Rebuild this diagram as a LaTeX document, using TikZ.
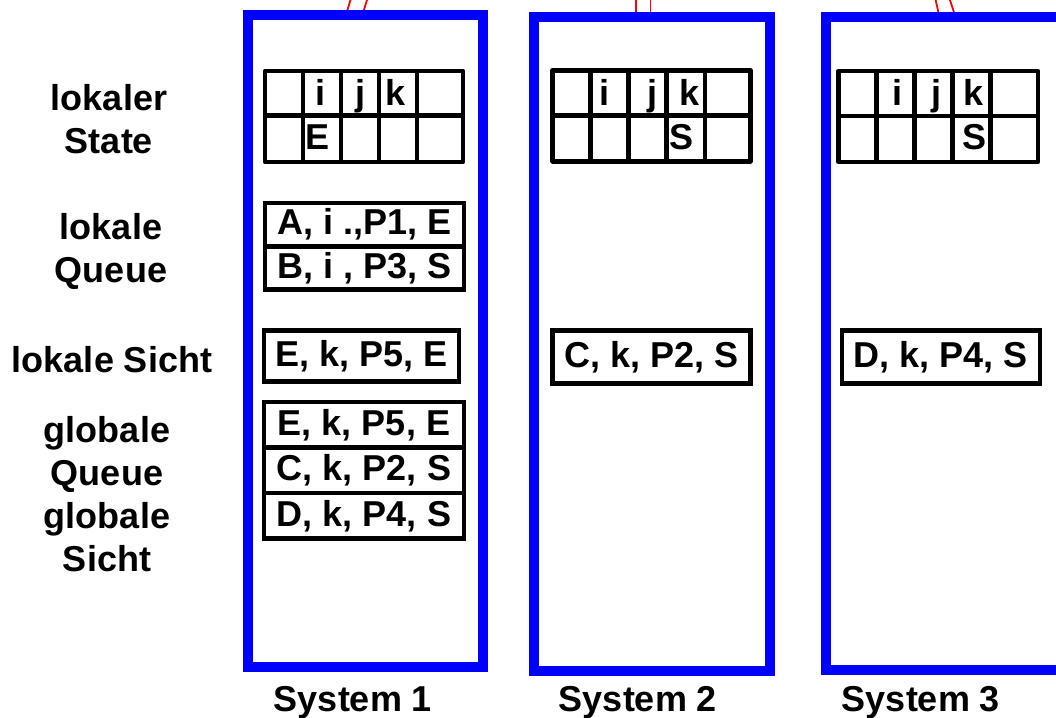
\documentclass[tikz,border=0pt]{standalone}
\usepackage{fontspec}
\setmainfont{Liberation Sans}
\usepackage{tikz}

\begin{document}
\begin{tikzpicture}[x=1pt, y=-1pt,
	big font/.style={font=\fontsize{36}{43}\selectfont\bfseries},
	sys node/.style={draw=blue, line width=10pt, inner sep=0pt},
	entry node/.style={draw, line width=4.5pt, inner sep=0pt, minimum width=199pt, minimum height=44pt, big font},
	label node/.style={align=center, inner sep=0pt, big font},
	cell text/.style={anchor=base, inner sep=0pt, big font},
	grid line/.style={line width=4.5pt, line join=round},
	link/.style={red, line width=1.8pt}]

	\clip (0,0) rectangle (1056,717);

	% links leaving the systems
	\coordinate (l1a) at (352,-5);   \coordinate (l1b) at (346.5,13);
	\coordinate (l1c) at (368.5,-5); \coordinate (l1d) at (363,13);
	\coordinate (l2a) at (636,-5);   \coordinate (l2b) at (636,15);
	\coordinate (l2c) at (650.5,-5); \coordinate (l2d) at (650.5,15);
	\coordinate (l3a) at (934.5,-5); \coordinate (l3b) at (938.8,14);
	\coordinate (l3c) at (948.3,-5); \coordinate (l3d) at (954.5,14);
	\draw[link] (l1a) -- (l1b) (l1c) -- (l1d);
	\draw[link] (l2a) -- (l2b) (l2c) -- (l2d);
	\draw[link] (l3a) -- (l3b) (l3c) -- (l3d);

	% the three systems
	\node[sys node, minimum width=235pt, minimum height=652pt] (sys1) at (365.5,341) {};
	\node[sys node, minimum width=236pt, minimum height=654pt] (sys2) at (652,344) {};
	\node[sys node, minimum width=235pt, minimum height=653pt] (sys3) at (943.5,343.5) {};

	\node[cell text] (name1) at (353,711.5) {System 1};
	\node[cell text] (name2) at (638,711.5) {System 2};
	\node[cell text] (name3) at (921,711.5) {System 3};

	% row labels
	\node[label node] (lstate) at (109,119) {lokaler\\State};
	\node[label node] (lqueue) at (111,251) {lokale\\Queue};
	\node[cell text] (lsicht) at (112,372) {lokale Sicht};
	\node[label node] (gqueue) at (107,494) {globale\\Queue\\globale\\Sicht};

	% local state tables
	\draw[grid line] (265,71) rectangle (463,162) (265,115.5) -- (463,115.5)
		(303,71) -- (303,162) (341,71) -- (341,162) (379,71) -- (379,162) (417,71) -- (417,162);
	\draw[grid line] (552.7,70.3) rectangle (750.3,161.3) (552.7,115.3) -- (750.3,115.3)
		(590.5,70.3) -- (590.5,161.3) (628.3,70.3) -- (628.3,161.3) (666.3,70.3) -- (666.3,161.3) (705,70.3) -- (705,161.3);
	\draw[grid line] (838.7,71) rectangle (1038,162) (838.7,116) -- (1038,116)
		(876.7,71) -- (876.7,162) (914.7,71) -- (914.7,162) (952.7,71) -- (952.7,162) (990.7,71) -- (990.7,162);

	\node[cell text] (s1i) at (320.5,105) {i};
	\node[cell text] (s1j) at (360,105) {j};
	\node[cell text] (s1k) at (396,105) {k};
	\node[cell text] (s1e) at (318,149) {E};

	\node[cell text] (s2i) at (604,105) {i};
	\node[cell text] (s2j) at (652,105) {j};
	\node[cell text] (s2k) at (689.5,105) {k};
	\node[cell text] (s2s) at (681.5,149) {S};

	\node[cell text] (s3i) at (897,105) {i};
	\node[cell text] (s3j) at (936.5,105) {j};
	\node[cell text] (s3k) at (973,105) {k};
	\node[cell text] (s3s) at (974,149) {S};

	% local queue
	\node[entry node, minimum height=43.25pt] (lq1) at (364.5,224.6) {A, i .,P1, E};
	\node[entry node, minimum height=43.25pt] (lq2) at (364.5,267.9) {B, i , P3, S};

	% local views
	\node[entry node, minimum width=195pt, minimum height=51pt] (lv1) at (361.4,356) {E, k, P5, E};
	\node[entry node, minimum width=198pt, minimum height=53pt] (lv2) at (651.4,357) {C, k, P2, S};
	\node[entry node, minimum width=198pt, minimum height=53pt] (lv3) at (940.9,357) {D, k, P4, S};

	% global queue
	\node[entry node, minimum width=200pt, minimum height=45.5pt] (gq1) at (364,424.75) {E, k, P5, E};
	\node[entry node, minimum width=200pt, minimum height=45.5pt] (gq2) at (364,470.25) {C, k, P2, S};
	\node[entry node, minimum width=200pt, minimum height=45.5pt] (gq3) at (364,515.75) {D, k, P4, S};

\end{tikzpicture}
\end{document}
